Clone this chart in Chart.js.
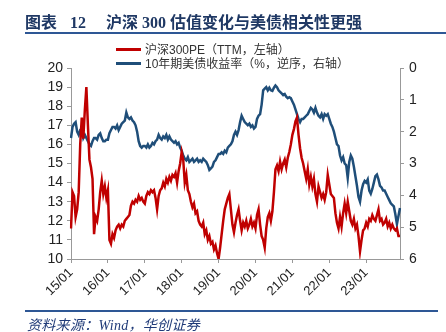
<!DOCTYPE html>
<html>
<head>
<meta charset="utf-8">
<script src="https://cdn.jsdelivr.net/npm/chart.js@4"></script>
<style>
  body { margin: 0; width: 446px; height: 332px; background: #fff; position: relative; overflow: hidden; }
  #c { position: absolute; left: 0; top: 0; }
  .title { position: absolute; left: 25px; top: 9px; font: bold 16px "Liberation Serif", "Noto Sans CJK SC"; color: #1f3864; white-space: nowrap; }
  .title b { display: inline-block; }
  .rule { position: absolute; left: 25px; height: 2px; background: #2e5795; }
  .leg { position: absolute; left: 116px; font: 12px "Liberation Sans", "Noto Sans CJK SC"; color: #333; white-space: nowrap; line-height: 14px; }
  .leg i { display: inline-block; width: 25px; height: 3px; vertical-align: middle; margin-right: 4px; position: relative; top: -1px; }
  .src { position: absolute; left: 27px; top: 314px; font: italic 14px "Liberation Serif", "Noto Sans CJK SC"; color: #1f3a78; white-space: nowrap; letter-spacing: 0.3px; }
</style>
</head>
<body>
<canvas id="c" width="446" height="332"></canvas>
<div class="title">图表<b style="width:13px"></b>12<b style="width:20px"></b>沪深<b style="width:4px"></b>300<b style="width:4px"></b>估值变化与美债相关性更强</div>
<div class="rule" style="top:32px;width:421px"></div>
<div class="leg" style="top:43px"><i style="background:#c00000"></i>沪深300PE（TTM，左轴）</div>
<div class="leg" style="top:57px"><i style="background:#1f4e79"></i>10年期美债收益率（%，逆序，右轴）</div>
<div class="rule" style="top:310px;width:413px"></div>
<div class="src">资料来源：Wind，华创证券</div>
<script>
// semi-monthly points, 2015-01-01 .. 2023-12-01
const pe = [
  11.6, 13.5, 13.3, 12.2, 12.6, 13.5, 16.0, 17.4, 16.3, 17.8, 19.0, 17.0, 15.2, 14.8, 14.2, 11.3, 12.2, 12.0, 12.6, 13.5, 14.1, 13.4, 13.8, 13.2, // 2015
  13.6, 11.0, 10.8, 11.3, 11.1, 11.5, 11.7, 11.8, 11.6, 11.8, 11.7, 12.0, 12.1, 12.2, 12.3, 12.8, 13.0, 12.9, 13.1, 13.0, 13.3, 13.1, 13.2, 13.0, // 2016
  12.9, 13.3, 13.5, 13.4, 13.6, 13.5, 13.6, 13.2, 12.6, 13.3, 13.6, 13.7, 14.0, 13.8, 14.2, 14.0, 14.3, 14.1, 14.4, 14.3, 14.5, 14.0, 14.6, 15.0, // 2017
  15.6, 15.2, 14.0, 14.4, 13.6, 13.4, 13.0, 12.7, 12.9, 12.4, 12.5, 12.0, 11.8, 11.7, 11.9, 11.3, 11.5, 11.0, 11.2, 10.8, 10.9, 10.5, 10.7, 10.3, // 2018
  10.0, 10.6, 11.3, 12.0, 12.6, 12.9, 13.2, 13.4, 12.6, 11.8, 11.4, 11.9, 12.3, 12.6, 12.0, 11.5, 11.9, 11.7, 12.0, 11.6, 11.8, 12.1, 11.7, 11.9, // 2019
  11.6, 12.3, 12.6, 11.8, 11.2, 11.0, 10.6, 11.6, 12.2, 12.4, 12.0, 12.5, 13.5, 14.7, 14.9, 14.6, 15.1, 14.7, 15.0, 15.2, 14.8, 15.3, 15.6, 16.0, // 2020
  16.5, 16.8, 17.2, 17.4, 16.5, 15.8, 15.3, 15.0, 14.6, 14.2, 14.7, 13.9, 14.3, 13.8, 14.2, 13.4, 13.0, 13.8, 13.5, 13.2, 13.4, 13.1, 13.5, 14.4, // 2021
  13.9, 13.4, 13.3, 13.2, 12.4, 11.9, 11.6, 12.2, 11.7, 12.4, 12.9, 12.4, 13.0, 12.5, 12.0, 11.8, 12.1, 11.6, 11.8, 11.2, 10.4, 11.0, 11.5, 11.6, // 2022
  11.9, 11.7, 12.1, 12.0, 12.3, 12.1, 12.0, 12.3, 12.6, 12.0, 12.1, 11.8, 11.9, 12.1, 11.7, 11.9, 11.6, 11.8, 11.6, 11.5, 11.6, 11.2, 11.2        // 2023
];
const ust10y = [
  2.2, 1.85, 1.75, 1.7, 2.0, 2.1, 1.95, 1.95, 2.2, 2.1, 2.2, 2.3, 2.4, 2.45, 2.3, 2.2, 2.2, 2.25, 2.1, 2.05, 2.2, 2.3, 2.3, 2.25,   // 2015
  2.25, 2.05, 1.95, 1.85, 1.85, 1.9, 1.8, 1.95, 1.85, 1.75, 1.7, 1.65, 1.4, 1.55, 1.6, 1.55, 1.65, 1.7, 1.8, 2.0, 2.3, 2.45, 2.5, 2.45, // 2016
  2.45, 2.5, 2.4, 2.5, 2.45, 2.35, 2.4, 2.3, 2.25, 2.1, 2.2, 2.25, 2.15, 2.2, 2.1, 2.25, 2.15, 2.25, 2.3, 2.35, 2.3, 2.4, 2.35, 2.5, // 2017
  2.6, 2.75, 2.85, 2.9, 2.8, 2.95, 2.9, 2.85, 2.95, 2.9, 2.85, 2.95, 2.9, 2.95, 2.85, 2.9, 2.95, 3.05, 3.2, 3.15, 3.1, 2.95, 2.9, 2.8, // 2018
  2.7, 2.7, 2.65, 2.7, 2.6, 2.65, 2.5, 2.45, 2.4, 2.3, 2.1, 2.0, 2.1, 1.95, 1.7, 1.5, 1.6, 1.7, 1.75, 1.8, 1.75, 1.85, 1.8, 1.9,    // 2019
  1.85, 1.6, 1.5, 1.45, 1.15, 0.7, 0.65, 0.6, 0.7, 0.62, 0.7, 0.72, 0.62, 0.55, 0.6, 0.7, 0.75, 0.8, 0.85, 0.82, 0.9, 0.95, 0.92, 0.95, // 2020
  1.05, 1.15, 1.3, 1.45, 1.6, 1.7, 1.6, 1.6, 1.55, 1.5, 1.45, 1.35, 1.25, 1.3, 1.4, 1.25, 1.4, 1.5, 1.55, 1.45, 1.6, 1.45, 1.5, 1.45, // 2021
  1.6, 1.75, 1.85, 2.0, 2.2, 2.4, 2.45, 2.75, 2.9, 2.8, 3.0, 3.05, 3.45, 2.95, 2.75, 2.85, 3.1, 3.4, 3.7, 4.05, 4.2, 3.85, 3.65, 3.55, // 2022
  3.6, 3.5, 3.85, 3.95, 3.8, 3.6, 3.4, 3.35, 3.5, 3.7, 3.75, 3.85, 3.85, 3.95, 4.05, 4.15, 4.25, 4.3, 4.35, 4.6, 4.9, 4.65, 4.4     // 2023
];
const yearTicks = ['15/01', '16/01', '17/01', '18/01', '19/01', '20/01', '21/01', '22/01', '23/01'];

// one label per half month
const periods = [];
for (let i = 0; i < pe.length; i++) {
  const y = 15 + Math.floor(i / 24);
  const m = Math.floor((i % 24) / 2) + 1;
  periods.push(y + '/' + String(m).padStart(2, '0') + (i % 2 ? 'b' : 'a'));
}

const tickFont = { family: '"Liberation Sans", Arial', size: 14 };
const axisGrid = { drawOnChartArea: false, drawTicks: true, tickLength: 4, color: '#999' };

new Chart(document.getElementById('c'), {
  type: 'line',
  data: {
    labels: periods,
    datasets: [{
      label: '沪深300PE（TTM，左轴）',
      data: pe,
      borderColor: '#c00000',
      borderWidth: 2.5,
      pointRadius: 0,
      tension: 0,
      yAxisID: 'y'
    }, {
      label: '10年期美债收益率（%，逆序，右轴）',
      data: ust10y,
      borderColor: '#1f4e79',
      borderWidth: 2.5,
      pointRadius: 0,
      tension: 0,
      yAxisID: 'y1'
    }]
  },
  options: {
    responsive: false,
    animation: false,
    layout: { padding: { top: 68, left: 0, right: 0, bottom: 33 } },
    plugins: { legend: { display: false }, tooltip: { enabled: false } },
    scales: {
      x: {
        ticks: {
          autoSkip: false,
          minRotation: 45,
          maxRotation: 45,
          padding: 2,
          color: '#222',
          font: { family: '"Liberation Sans", Arial', size: 13 },
          callback: (v, i) => {
            const p = periods[i];
            if (p.endsWith('/01a')) return yearTicks.indexOf(p.slice(0, 5)) >= 0 ? p.slice(0, 5) : null;
            return null;
          }
        },
        grid: axisGrid,
        border: { color: '#999' },
        afterFit: s => { s.height = 40; }
      },
      y: {
        position: 'left',
        min: 10,
        max: 20,
        ticks: { stepSize: 1, autoSkip: false, color: '#222', font: tickFont, padding: 4 },
        grid: axisGrid,
        border: { color: '#999' },
        afterFit: s => { s.width = 71; }
      },
      y1: {
        position: 'right',
        reverse: true,
        min: 0,
        max: 6,
        ticks: { stepSize: 1, autoSkip: false, color: '#222', font: tickFont, padding: 5 },
        grid: axisGrid,
        border: { color: '#999' },
        afterFit: s => { s.width = 46; }
      }
    }
  }
});
</script>
</body>
</html>
